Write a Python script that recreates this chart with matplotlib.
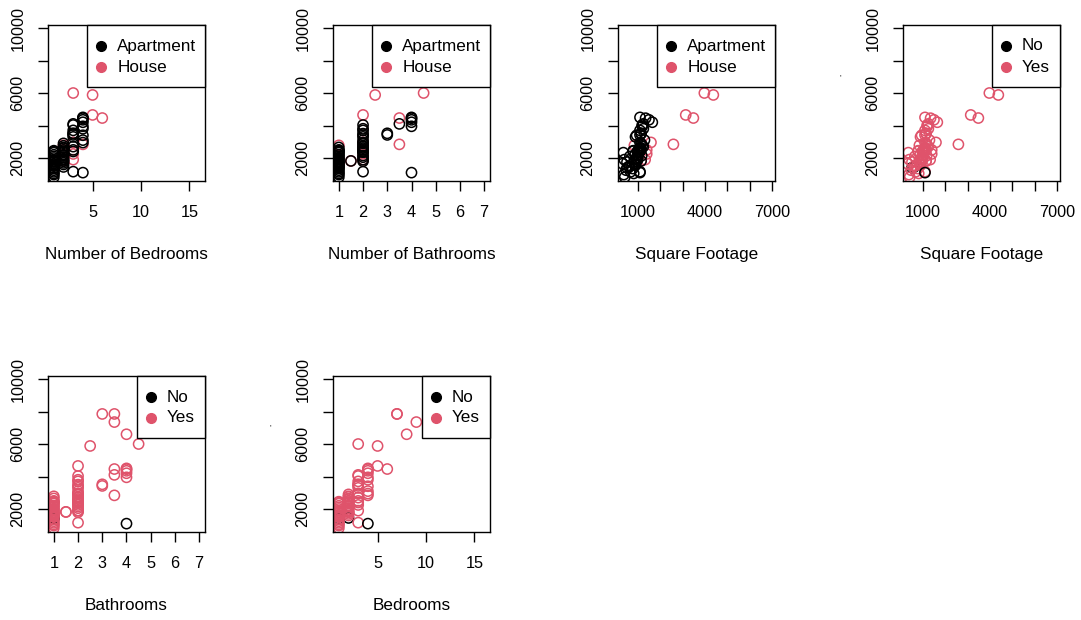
import numpy as np
import matplotlib
matplotlib.use('Agg')
import matplotlib.pyplot as plt
from matplotlib.patches import Rectangle

plt.rcParams['font.family'] = ['Liberation Sans', 'DejaVu Sans']

# --- listings (top row uses these; bottom row adds a few large homes) ---
# order: 2 apartments, 11 houses, then the remaining apartments
bedrooms = [1, 2,
            3, 5, 5, 6, 4, 3, 3, 3, 2, 2, 2,
            1, 1, 1, 1, 1, 1, 1, 1, 1, 1, 1, 1, 1, 1, 1, 1, 1, 1,
            2, 2, 2, 2, 2, 2, 2, 2, 2, 2, 2, 2, 2, 2, 2, 2, 2,
            3, 3, 3, 3, 3, 3, 3, 3, 3, 3, 3,
            4, 4, 4, 4, 4, 4, 4, 4, 4, 4]
bathrooms = [1, 1,
             4.5, 2.5, 2, 3.5, 3.5, 2, 2, 2, 1, 2, 1.5,
             1, 1, 1, 1, 1, 1, 1, 1, 1, 1, 1, 1, 1, 1, 1, 1, 1, 1,
             1, 1, 1, 1, 1, 1, 1, 1.5, 2, 2, 2, 2, 2, 2, 2, 2, 2,
             2, 2, 2, 2, 2, 2, 2, 3, 3, 3.5, 2,
             4, 4, 4, 4, 4, 2, 2, 2, 2, 4]
sqft = [520, 620,
        3970, 4370, 3140, 3480, 2590, 1590, 1400, 1330, 850, 1400, 1150,
        360, 520, 480, 380, 620, 650, 680, 420, 320, 400, 780, 800, 820, 850, 880, 900, 950, 980,
        800, 850, 900, 950, 1000, 1050, 1100, 1150, 950, 1000, 1050, 1100, 1150, 1200, 1000, 1100, 1180,
        1100, 1150, 900, 1200, 1150, 1000, 1250, 1150, 1100, 1250, 1100,
        1100, 1350, 1500, 1650, 1200, 1250, 950, 1300, 1100, 1100]
price = [1400, 1450,
         6000, 5880, 4650, 4460, 2840, 2960, 2250, 1900, 2780, 2500, 1820,
         2330, 1750, 1250, 980, 1500, 2100, 1150, 820, 1650, 1900, 1350, 2450, 1050, 1800, 2200, 1550, 2000, 2400,
         2420, 1700, 1600, 1950, 2200, 2500, 2650, 1820, 1800, 2050, 2350, 2600, 2900, 2750, 1900, 2400, 2150,
         3700, 3500, 3300, 4030, 2500, 2400, 2700, 3520, 3420, 4100, 1160,
         4500, 4450, 4350, 4200, 3950, 3800, 3400, 3100, 2950, 1100]
home_type = ['Apartment'] * 2 + ['House'] * 11 + ['Apartment'] * 56
flag = ['No'] * 2 + ['Yes'] * 66 + ['No']

extra_bedrooms = [7, 7, 9, 8]
extra_bathrooms = [3, 3.5, 3.5, 4]
extra_price = [7850, 7850, 7350, 6600]

all_bedrooms = bedrooms + extra_bedrooms
all_bathrooms = bathrooms + extra_bathrooms
all_price = price + extra_price
all_flag = flag + ['Yes'] * len(extra_price)

RED = '#DF536B'
FS = 12.3

fig = plt.figure(figsize=(10.81, 6.20), dpi=100)

col_x = [48, 333, 618, 903]
row_top = [25, 376]
W, H = 157, 156


def make_ax(r, c):
    return fig.add_axes([col_x[c] / 1081, (620 - row_top[r] - H) / 620, W / 1081, H / 620])


def panel(ax, x, y, groups, labels, xlim, xticks, xshow, xlabel, leg_left):
    cols = ['black' if g == labels[0] else RED for g in groups]
    ax.scatter(x, y, s=54, facecolors='none', edgecolors=cols, linewidths=1.1, zorder=2)
    ax.set_xlim(*xlim)
    ax.set_ylim(585, 10185)
    ax.set_xticks(xticks)
    ax.set_xticklabels([str(t) if t in xshow else '' for t in xticks])
    yt = [2000, 4000, 6000, 8000, 10000]
    ax.set_yticks(yt)
    ax.set_yticklabels([str(t) if t in (2000, 6000, 10000) else '' for t in yt])
    ax.tick_params(direction='out', length=7.2, width=1.0, labelsize=FS * 0.95, pad=9)
    ax.tick_params(axis='x', pad=10)
    ax.tick_params(axis='y', labelrotation=90)
    for lab in ax.get_yticklabels():
        lab.set_va('center')
    for s in ax.spines.values():
        s.set_linewidth(1.0)
    ax.set_xlabel(xlabel, fontsize=FS, va='center')
    ax.xaxis.set_label_coords(0.5, -0.47)
    # R-style legend box in the top right corner
    bottom = 1 - 62 / H
    ax.add_patch(Rectangle((leg_left, bottom), 1 - leg_left, 1 - bottom, transform=ax.transAxes,
                           facecolor='white', edgecolor='black', lw=1.0, zorder=5, clip_on=False))
    for i, (lab, c) in enumerate(zip(labels, ['black', RED])):
        yy = 1 - (21 + 21 * i) / H
        ax.plot([leg_left + 14 / W], [yy], 'o', color=c, ms=7, transform=ax.transAxes, zorder=6)
        ax.text(leg_left + 30 / W, yy, lab, transform=ax.transAxes, fontsize=FS,
                va='center', ha='left', zorder=6)


types = ['Apartment', 'House']
yn = ['No', 'Yes']
bed_ticks = [5, 10, 15]
bath_ticks = [1, 2, 3, 4, 5, 6, 7]
sq_ticks = [1000, 2000, 3000, 4000, 5000, 6000, 7000]

panel(make_ax(0, 0), bedrooms, price, home_type, types, (0.4, 16.6), bed_ticks, bed_ticks,
      'Number of Bedrooms', 0.25)
panel(make_ax(0, 1), bathrooms, price, home_type, types, (0.76, 7.24), bath_ticks, bath_ticks,
      'Number of Bathrooms', 0.25)
panel(make_ax(0, 2), sqft, price, home_type, types, (120, 7120), sq_ticks, (1000, 4000, 7000),
      'Square Footage', 0.25)
panel(make_ax(0, 3), sqft, price, flag, yn, (120, 7120), sq_ticks, (1000, 4000, 7000),
      'Square Footage', 0.565)
panel(make_ax(1, 0), all_bathrooms, all_price, all_flag, yn, (0.76, 7.24), bath_ticks, bath_ticks,
      'Bathrooms', 0.565)
panel(make_ax(1, 1), all_bedrooms, all_price, all_flag, yn, (0.4, 16.6), bed_ticks, bed_ticks,
      'Bedrooms', 0.565)

# stray tick marks left of two panels
fig.text(840 / 1081, 1 - 78 / 620, "'", fontsize=6, ha='center', va='center')
fig.text(270 / 1081, 1 - 428 / 620, "'", fontsize=6, ha='center', va='center')

fig.savefig('out.png', dpi=100)
